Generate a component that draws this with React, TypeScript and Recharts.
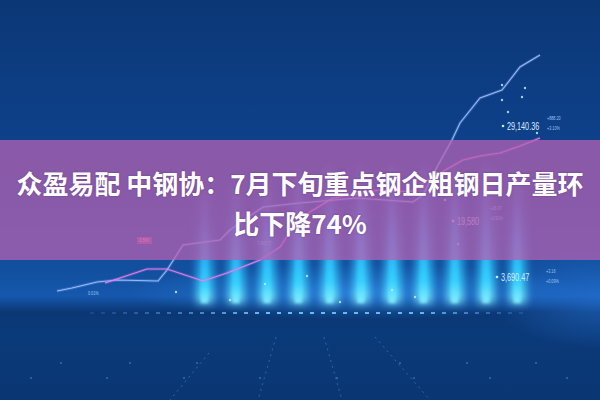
import React from 'react';
import { ComposedChart, BarChart, Bar, Line, XAxis, YAxis, ReferenceDot, ReferenceLine, ReferenceArea } from 'recharts';

// glowing columns: one per period, values on a 0..400 scale
const glowCats = ['1', '2', '3', '4', '5', '6', '7', '8', '9', '10', '11'];
const glowTop = [215, 225, 232, 236, 240, 242, 242, 242, 244, 244, 240];
const glowBase = 97;

// line series: x along the time axis (0..600), values on the 0..400 scale
const blueX = [57, 72, 97, 117, 158, 167, 183, 220, 230, 240, 263, 300, 357, 413, 423, 437, 452, 460, 480, 502, 520, 540];
const blueV = [109, 112, 118, 120, 119, 130, 155, 160, 170, 177, 193, 197, 202, 198, 205, 233, 260, 277, 302, 310, 333, 345];

const pinkX = [105, 147, 167, 203, 227, 260, 280, 290, 310, 333, 380, 410, 433, 463, 480, 500, 520, 540];
const pinkV = [117, 131, 131, 119, 127, 140, 153, 168, 188, 202, 210, 208, 223, 240, 244, 247, 254, 262];

const sparkX = [502, 502, 522, 525, 508, 537, 176, 307, 265, 230, 415, 445, 535, 458, 392, 340];
const sparkV = [315, 300, 303, 312, 288, 267, 108, 124, 116, 100, 103, 200, 215, 156, 110, 98];

const floorDotX = [61, 130, 197, 400, 467, 536, 31, 107, 184, 260, 337, 414, 490, 567];
const floorDotV = [37, 37, 37, 37, 37, 37, 22, 22, 22, 22, 22, 22, 22, 22];

const floorLines = [
  [{ x: 209, v: 47 }, { x: 170, v: 0 }],
  [{ x: 276, v: 63 }, { x: 258, v: 0 }],
  [{ x: 324, v: 63 }, { x: 342, v: 0 }],
  [{ x: 375, v: 63 }, { x: 430, v: 0 }],
];

const bigLabels = ['29,140.36', '19,580', '3,690.47'];
const bigLabelX = [503, 453, 497];
const bigLabelV = [274, 179, 123];
const bigLabelColor = ['#dbe9ff', '#d8cbef', '#dbe9ff'];

const tinyLabels = ['+888.20', '+3.10%', '+26.07', '+0.91%', '+3.16', '+0.09%', '7,465.57', '0.01%'];
const tinyLabelX = [547, 547, 490, 490, 546, 546, 257, 88];
const tinyLabelV = [282, 272, 192, 182, 129, 119, 157, 107];

const titleLine1 = '众盈易配 中钢协：7月下旬重点钢企粗钢日产量环';
const titleLine2 = '比下降74%';

const barData = glowCats.map((c, i) => ({ c, base: glowBase, h: glowTop[i] - glowBase }));
const blueData = blueX.map((x, i) => ({ x, v: blueV[i] }));
const pinkData = pinkX.map((x, i) => ({ x, v: pinkV[i] }));

const numFont = "'Liberation Sans', Arial, sans-serif";
const barMargin = { top: 0, right: 67, bottom: 0, left: 189 };

function makeLabelShape(text: string, fill: string, size: number, squeeze: number, dotR: number, gap: number) {
  return (p: any) => {
    const cx = p.cx;
    const cy = p.cy;
    return (
      <g>
        {dotR > 0 ? <circle cx={cx} cy={cy} r={dotR} fill="#d0e8ff" /> : null}
        <text
          transform={`translate(${cx + gap},${cy}) scale(${squeeze},1)`}
          x={0}
          y={0}
          dy="0.36em"
          fill={fill}
          fontSize={size}
          fontFamily={numFont}
        >
          {text}
        </text>
      </g>
    );
  };
}

function GlowBars({ size, id, opacity }: { size: number; id: string; opacity: number }) {
  return (
    <BarChart width={600} height={400} data={barData} margin={barMargin} barCategoryGap={0}>
      <defs>
        <linearGradient id={id} x1="0" y1="0" x2="0" y2="1">
          <stop offset="0%" stopColor="#4fd8ff" stopOpacity={0} />
          <stop offset="30%" stopColor="#3a9cff" stopOpacity={0.25} />
          <stop offset="60%" stopColor="#2ab8ff" stopOpacity={0.7} />
          <stop offset="85%" stopColor="#36d2ff" stopOpacity={0.95} />
          <stop offset="100%" stopColor="#8af2ff" stopOpacity={1} />
        </linearGradient>
      </defs>
      <XAxis dataKey="c" type="category" hide />
      <YAxis type="number" domain={[0, 400]} hide allowDataOverflow />
      <Bar dataKey="base" stackId="g" barSize={size} fill="#000000" fillOpacity={0} isAnimationActive={false} />
      <Bar dataKey="h" stackId="g" barSize={size} fill={`url(#${id})`} fillOpacity={opacity} isAnimationActive={false} />
    </BarChart>
  );
}

export default function App() {
  return (
    <div
      style={{
        position: 'fixed',
        left: 0,
        top: 0,
        width: 600,
        height: 400,
        overflow: 'hidden',
        background:
          'radial-gradient(ellipse 230px 28px at 360px 292px, rgba(50,150,245,0.55), rgba(50,150,245,0) 100%),' +
          'radial-gradient(ellipse 110px 50px at 600px 298px, rgba(40,120,220,0.55), rgba(40,120,220,0) 100%),' +
          'linear-gradient(to bottom, #0b3775 0%, #0d3e85 25%, #0f4590 50%, #12509f 68%, #1658ae 74%, #0b3774 78%, #0b3a7a 83%, #0a3673 100%)',
      }}
    >
      <div style={{ position: 'absolute', left: 0, top: 0, filter: 'blur(4px)' }}>
        <GlowBars size={16} id="glowA" opacity={1} />
      </div>
      <div style={{ position: 'absolute', left: 0, top: 0, filter: 'blur(1.5px)' }}>
        <GlowBars size={7} id="glowB" opacity={0.85} />
      </div>
      <div style={{ position: 'absolute', left: 0, top: 0 }}>
        <ComposedChart width={600} height={400} data={blueData} margin={{ top: 0, right: 0, bottom: 0, left: 0 }}>
          <defs>
            <linearGradient id="dashGrad" gradientUnits="userSpaceOnUse" x1="90" y1="0" x2="530" y2="0">
              <stop offset="0%" stopColor="#3f8ee0" stopOpacity={0.2} />
              <stop offset="40%" stopColor="#6cc4ff" stopOpacity={0.95} />
              <stop offset="75%" stopColor="#6cc4ff" stopOpacity={0.9} />
              <stop offset="100%" stopColor="#3f8ee0" stopOpacity={0.2} />
            </linearGradient>
          </defs>
          <XAxis dataKey="x" type="number" domain={[0, 600]} hide allowDataOverflow />
          <YAxis type="number" domain={[0, 400]} hide allowDataOverflow />
          <ReferenceLine
            segment={[{ x: 90, y: 87 }, { x: 530, y: 87 }]}
            stroke="url(#dashGrad)"
            strokeWidth={2}
            strokeDasharray="4 7"
          />
          {floorLines.map((seg, i) => (
            <Line
              key={'fl' + i}
              data={seg}
              dataKey="v"
              stroke="#4a8ade"
              strokeOpacity={0.55}
              strokeWidth={1}
              strokeDasharray="2 4"
              dot={false}
              activeDot={false}
              isAnimationActive={false}
            />
          ))}
          <Line data={blueData} dataKey="v" stroke="#8ab0ff" strokeOpacity={0.25} strokeWidth={3} dot={false} activeDot={false} isAnimationActive={false} />
          <Line data={blueData} dataKey="v" stroke="#a4c2ff" strokeOpacity={0.9} strokeWidth={1.1} dot={false} activeDot={false} isAnimationActive={false} />
          <Line data={pinkData} dataKey="v" stroke="#e070e4" strokeOpacity={0.25} strokeWidth={3} dot={false} activeDot={false} isAnimationActive={false} />
          <Line data={pinkData} dataKey="v" stroke="#ec80ea" strokeOpacity={0.95} strokeWidth={1.1} dot={false} activeDot={false} isAnimationActive={false} />
          {sparkX.map((x, i) => (
            <ReferenceDot key={'sp' + i} x={x} y={sparkV[i]} r={1.2} fill="#bfe6ff" fillOpacity={0.85} stroke="none" />
          ))}
          {floorDotX.map((x, i) => (
            <ReferenceDot key={'fd' + i} x={x} y={floorDotV[i]} r={1} fill="#4f8fd8" fillOpacity={0.6} stroke="none" />
          ))}
          <ReferenceArea x1={137} x2={152} y1={156} y2={163} fill="#e4507e" fillOpacity={0.7} stroke="none" />
          <ReferenceDot x={139} y={159.5} r={0} stroke="none" shape={makeLabelShape('3.5%', '#ffd0e0', 5, 0.9, 0, 0)} />
          {bigLabels.map((t, i) => (
            <ReferenceDot
              key={'bl' + i}
              x={bigLabelX[i]}
              y={bigLabelV[i]}
              r={2}
              stroke="none"
              shape={makeLabelShape(t, bigLabelColor[i], 11, 0.66, 1.3, 4)}
            />
          ))}
          {tinyLabels.map((t, i) => (
            <ReferenceDot
              key={'tl' + i}
              x={tinyLabelX[i]}
              y={tinyLabelV[i]}
              r={0}
              stroke="none"
              shape={makeLabelShape(t, '#9fc4ee', 5, 0.75, 0, 0)}
            />
          ))}
        </ComposedChart>
      </div>
      <div
        style={{
          position: 'absolute',
          left: 0,
          top: 140,
          width: 600,
          height: 120,
          background: 'rgba(180,97,179,0.75)',
        }}
      />
      <div
        style={{
          position: 'absolute',
          left: 0,
          top: 169,
          width: 600,
          textAlign: 'center',
          whiteSpace: 'nowrap',
          color: '#ffffff',
          fontFamily: "'Noto Sans CJK SC', sans-serif",
          fontWeight: 700,
          fontSize: 26,
          lineHeight: '28px',
          textShadow: '0 0 2px rgba(60,20,90,0.4)',
        }}
      >
        <div>{titleLine1}</div>
        <div style={{ marginTop: 12 }}>{titleLine2}</div>
      </div>
    </div>
  );
}
